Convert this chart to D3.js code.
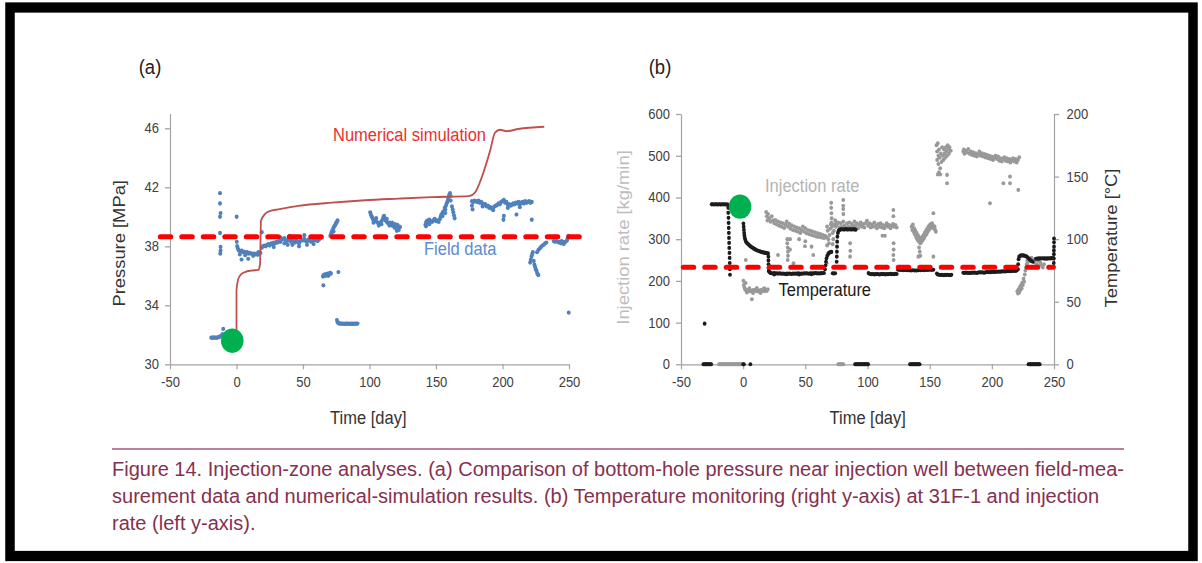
<!DOCTYPE html>
<html>
<head>
<meta charset="utf-8">
<script src="https://cdn.jsdelivr.net/npm/d3@7"></script>
<style>
  html, body { margin: 0; padding: 0; background: #fff; }
  svg { display: block; }
  text { font-family: "Liberation Sans", Arial, Helvetica, sans-serif; }
</style>
</head>
<body>
<script>
"use strict";

// ---- data ----

// (a) numerical simulation, [day, MPa]
const simPressure = [
  [0, 32.3], [0, 35.0], [1.4, 35.8], [3.5, 36.1], [6.4, 36.25], [11, 36.35], [16.4, 36.4],
  [17.7, 36.8], [18.4, 39.73], [21.4, 40.18], [25, 40.38], [31.4, 40.5], [46.5, 40.74],
  [71.6, 40.96], [96.6, 41.12], [121.7, 41.23], [146.8, 41.33], [174.8, 41.4], [179.3, 41.64],
  [184.3, 42.65], [190.6, 44.45], [194.4, 45.7], [198.1, 45.9], [203.2, 45.8], [211.9, 45.95],
  [231.4, 46.1]
];

// (a) field data, [day, MPa]
const fieldPressure = [
  [-19, 31.8], [-18, 31.8], [-17, 31.82], [-16, 31.8], [-15, 31.8], [-14, 31.82], [-13, 31.85],
  [-12, 31.9], [-11, 31.95], [-10.5, 32.05], [-10, 32.4],
  [-12.4, 41.6], [-12.4, 40.9], [-12, 40.25], [-12.4, 40.0], [-12.4, 38.9], [-12, 37.95],
  [-12, 37.7], [-12.2, 37.5], [0.1, 40.0],
  [0.2, 38.3], [0.5, 38.0], [1, 37.85], [1.5, 37.75], [2, 37.7], [3, 37.65], [4, 37.7], [5, 37.6],
  [6, 37.62], [7, 37.55], [8, 37.6], [9, 37.5], [10, 37.55], [11, 37.5], [12, 37.48], [13, 37.5],
  [14, 37.45], [15, 37.5], [16, 37.42], [17, 37.5], [18, 37.55], [3.8, 37.1], [8.8, 37.15],
  [2.5, 37.45], [6.5, 37.4], [12.5, 37.35], [16.5, 37.6],
  [19, 38.95], [19, 37.9], [20, 38.0], [21, 38.05], [22, 38.0], [23, 38.1], [24, 38.15], [25, 38.05],
  [26, 38.2], [27, 38.15], [28, 38.25], [29, 38.2], [30, 38.3], [31, 38.25], [32, 38.35], [33, 38.3],
  [34, 38.45], [35, 38.5], [36, 38.55], [37, 38.4], [38, 38.35], [39, 38.5], [40, 38.4], [41, 38.3],
  [42, 38.45], [43, 38.35], [44, 38.25], [45, 38.4], [46, 38.3], [47, 38.2], [48, 38.35], [49, 38.45],
  [50, 38.4], [51, 38.5], [52, 38.35], [53, 38.3], [54, 38.45], [55, 38.4], [56, 38.3], [57, 38.35],
  [58, 38.45], [59, 38.4], [60, 38.5], [61, 38.35], [62, 38.45], [63, 38.55], [64, 38.6],
  [28, 37.95], [36, 38.2], [42, 38.1], [47, 38.0], [53, 38.1], [58, 38.15], [33, 38.6], [40, 38.7],
  [51, 38.75], [38.5, 38.1],
  [70.5, 38.7], [71, 38.8], [71.5, 38.95], [72, 39.05], [72.5, 39.15], [73, 39.25], [73.5, 39.35],
  [74, 39.4], [74.5, 39.5], [75, 39.6], [75.5, 39.65], [76, 39.75], [73, 39.0],
  [65, 35.95], [65.5, 36.05], [66, 36.0], [66.5, 36.1], [67, 36.0], [67.5, 36.1], [68, 36.05],
  [68.5, 36.15], [69, 36.0], [69.5, 36.15], [70, 36.1], [70.5, 36.2], [71, 36.15], [65.3, 35.35],
  [76.6, 36.25],
  [75.5, 33.0], [76, 32.85], [76.5, 32.8], [77, 32.78], [78, 32.75], [79, 32.76], [80, 32.75],
  [81, 32.74], [82, 32.75], [83, 32.75], [84, 32.76], [85, 32.74], [86, 32.75], [87, 32.75],
  [88, 32.74], [89, 32.75], [90, 32.75], [91, 32.76],
  [100.5, 40.3], [101, 40.15], [101.5, 40.05], [102, 39.95], [102.5, 39.85], [103, 39.8],
  [104, 39.75], [105, 39.7], [106, 39.6], [107, 39.55], [108, 39.6], [109, 39.7], [110, 39.85],
  [110.5, 40.0], [111, 40.05], [111.5, 39.9], [112, 39.75], [113, 39.65], [114, 39.55], [115, 39.6],
  [116, 39.5], [117, 39.4], [118, 39.35], [119, 39.25], [120, 39.3], [121, 39.2], [122, 39.35],
  [123, 39.3], [103, 39.6], [105, 39.9], [107, 39.4], [109, 39.5], [113, 39.85], [115, 39.4],
  [117, 39.6], [119, 39.5], [121, 39.45], [120.5, 39.05], [122, 39.1],
  [142, 39.45], [142.5, 39.6], [143, 39.7], [143.5, 39.55], [144, 39.75], [145, 39.8], [146, 39.7],
  [147, 39.65], [148, 39.75], [149, 39.85], [150, 39.7], [151, 39.75], [152, 39.65], [153, 39.85],
  [153.5, 40.0], [154, 40.15], [155, 40.3], [156, 40.4], [156.5, 40.6], [157, 40.5], [157.5, 40.75],
  [158, 40.9], [158.5, 41.0], [159, 41.2], [159.5, 41.35], [160, 41.5], [160.5, 41.6], [161, 41.4],
  [162, 40.7], [162.5, 40.5], [163, 40.3], [163.5, 40.1], [164, 39.9], [161, 41.1], [142.5, 39.35],
  [145, 39.5], [155, 40.05], [157, 40.25],
  [177, 41.05], [177, 40.75], [177.5, 40.5], [178, 41.0], [179, 41.1], [180, 41.05], [181, 41.0],
  [182, 41.1], [183, 40.95], [184, 41.0], [185, 40.9], [186, 40.8], [187, 40.85], [188, 40.7],
  [189, 40.75], [190, 40.6], [191, 40.65], [192, 40.55], [193, 40.6], [194, 40.7], [195, 40.75],
  [196, 40.8], [197, 40.9], [198, 40.85], [199, 41.0], [200, 41.05], [201, 41.15], [202, 40.95],
  [203, 41.0], [204, 40.8], [205, 40.85], [206, 40.75], [207, 40.8], [208, 40.9], [209, 40.85],
  [210, 40.95], [211, 40.9], [212, 41.0], [213, 40.85], [214, 40.95], [215, 41.0], [216, 40.9],
  [217, 41.05], [218, 40.95], [219, 41.0], [220, 41.05], [221, 40.95], [222, 41.0], [200.7, 39.8],
  [201, 40.05], [210.5, 40.15], [222, 39.8], [185, 40.7], [193, 40.45], [204, 40.6], [213, 40.65],
  [220.8, 36.9], [221.3, 37.1], [221.8, 37.3], [222.3, 37.45], [222.8, 37.6], [223.5, 37.0],
  [224, 36.75], [224.5, 36.6], [225, 36.45], [225.5, 36.35], [226, 36.2], [226.5, 36.1], [227, 36.05],
  [226, 37.6], [227, 37.75], [228, 37.85], [229, 37.95], [230, 38.05], [231, 38.1], [232, 38.2],
  [233, 38.25],
  [238.5, 38.35], [239.5, 38.3], [240.5, 38.35], [241.5, 38.3], [242.5, 38.25], [243.5, 38.3],
  [244.5, 38.35], [245.5, 38.3], [246.5, 38.25], [247.5, 38.3], [248.5, 38.4], [249, 38.55],
  [249.5, 38.7], [244, 38.2], [246, 38.15], [249.8, 33.5]
];

// (a) annotations
const refPressure = 38.65;          // red dashed line
const refPressureSpan = [-57.5, 259.8];
const startA = [-3.2, 31.6];        // green marker

// (b) temperature, [day, degC]
const temperature = [
  [-32, 0], [-31.3, 0], [-30.6, 0], [-29.9, 0], [-29.2, 0], [-28.5, 0], [-27.8, 0], [-27.1, 0],
  [-26.4, 0], [-25.7, 0], [0, 0], [0.6, 0], [5.8, 0],
  [90, 0], [90.7, 0], [91.4, 0], [92.1, 0], [92.8, 0], [93.5, 0], [94.2, 0], [94.9, 0], [95.6, 0],
  [96.3, 0], [97, 0], [97.7, 0], [98.4, 0], [99.1, 0], [99.8, 0], [100.5, 0],
  [134.2, 0], [134.9, 0], [135.6, 0], [136.3, 0], [137, 0], [137.7, 0], [138.4, 0], [139.1, 0],
  [139.8, 0], [140.5, 0], [141.2, 0], [141.9, 0],
  [229.5, 0], [230.2, 0], [230.9, 0], [231.6, 0], [232.3, 0], [233, 0], [233.7, 0], [234.4, 0],
  [235.1, 0], [235.8, 0], [236.5, 0], [237.2, 0], [237.9, 0], [238.5, 0],
  [-31, 32.5],
  [-25.3, 127.8], [-24.5, 127.9], [-23.5, 127.7], [-22.5, 127.9], [-21.5, 127.8], [-20.5, 127.7],
  [-19.5, 127.9], [-18.5, 127.8], [-17.5, 127.7], [-16.5, 127.9], [-15.5, 127.8], [-14.5, 127.7],
  [-13.5, 127.8], [-12.5, 127.6],
  [-12, 125], [-12, 121], [-11.8, 117], [-11.7, 113], [-11.6, 109], [-11.5, 105], [-11.4, 101],
  [-11.3, 97], [-11.2, 93], [-11, 89], [-10.9, 85], [-10.8, 81], [-10.7, 76], [-10.6, 71.5],
  [0.2, 112.5], [0.4, 110], [0.6, 107.5], [0.8, 105], [1.0, 103], [1.3, 101], [1.7, 99.5], [2.2, 98],
  [3, 97], [4, 96], [5, 95], [6, 94.2], [7, 93.5], [8, 92.8], [9, 92.2], [10, 91.6], [11, 91.1],
  [12, 90.7], [13, 90.3], [14, 90], [15, 89.7], [16, 89.4], [17, 89.2], [18, 89], [19, 88.8],
  [20, 88.6], [20.3, 86], [20.3, 83], [20.4, 80], [20.4, 77], [20.5, 74.5],
  [21, 74.2], [21.5, 73.4], [22, 73], [23, 72.8], [24, 72.6], [25, 72.9], [26, 72.5], [27, 72.7],
  [28, 72.4], [29, 72.8], [30, 72.5], [31, 72.3], [32, 72.6], [33, 72.4], [34, 72.2], [35, 72.5],
  [36, 72.3], [37, 72.6], [38, 72.4], [39, 72.2], [40, 72.5], [41, 72.3], [42, 72.6], [43, 72.4],
  [44, 72.7], [45, 72.5], [46, 72.3], [47, 72.6], [48, 72.4], [49, 72.7], [50, 72.5], [51, 72.8],
  [52, 72.6], [53, 72.4], [54, 72.7], [55, 72.5], [56, 72.8], [57, 72.6], [58, 72.9], [59, 72.7],
  [60, 72.5], [61, 72.8], [62, 72.6], [63, 72.9], [64, 72.7], [65, 73], [25, 71.8], [35, 71.9],
  [45, 71.8], [55, 72.0], [72, 72.8], [73, 72.6], [74, 72.7],
  [65.8, 76], [66.2, 79], [66.6, 82], [67, 84.5], [67.6, 86.5], [68.3, 88], [69, 89], [70, 89.6],
  [71, 89.8],
  [75.2, 82], [75.3, 86], [75.4, 90], [75.5, 94], [75.6, 98], [75.8, 102], [76.2, 105], [76.8, 106.8],
  [77.5, 107.4], [78.5, 107.8], [79.5, 107.9], [80.5, 107.7], [81.5, 107.8], [82.5, 108],
  [83.5, 107.8], [84.5, 107.7], [85.5, 107.9], [86.5, 107.8], [87.5, 107.7], [88.5, 107.9],
  [89.5, 107.8], [90.5, 107.6],
  [100.8, 73], [101.5, 72.4], [102.5, 72.1], [103.5, 71.9], [104.5, 72.2], [105.5, 71.8],
  [106.5, 72.1], [107.5, 71.9], [108.5, 72.2], [109.5, 71.8], [110.5, 72], [111.5, 72.3],
  [112.5, 71.9], [113.5, 72.1], [114.5, 71.8], [115.5, 72.2], [116.5, 71.9], [117.5, 72.1],
  [118.5, 72.3], [119.5, 71.9], [120.5, 72.2], [121.5, 72], [122.5, 72.3], [123.5, 72.1],
  [124.5, 75.5], [126, 75.3], [127.5, 75.4], [129, 75.2], [130.5, 75.3], [132, 75.1], [133.5, 75.2],
  [135, 75], [136.5, 75.1], [138, 74.9], [139.5, 75], [141, 75.2], [142.5, 75.1], [144, 75.3],
  [145.5, 75.2], [147, 75.4], [148.5, 75.3], [150, 75.5], [151.5, 75.4], [153, 75.6],
  [155.8, 72.5], [156.5, 71.8], [157.5, 71.5], [158.5, 71.3], [159.5, 71.6], [160.5, 71.4],
  [161.5, 71.2], [162.5, 71.5], [163.5, 71.3], [164.5, 71.6], [165.5, 71.4], [166.5, 71.2],
  [167.5, 71.5],
  [177, 73.2], [178, 73], [179, 73.3], [180, 73.1], [181, 72.9], [182, 73.2], [183, 73], [184, 73.3],
  [185, 73.1], [186, 73.4], [187, 73.2], [188, 73], [189, 73.3], [190, 73.5], [191, 73.3], [192, 73.6],
  [193, 73.4], [194, 73.2], [195, 73.5], [196, 73.7], [197, 73.5], [198, 73.8], [199, 73.6],
  [200, 73.9], [201, 73.7], [202, 74], [203, 73.8], [204, 74.1], [205, 73.9], [206, 74.2], [207, 74],
  [208, 74.3], [209, 74.1], [210, 74.4], [211, 74.2], [212, 74.5], [213, 74.3], [214, 74.6],
  [215, 74.4], [216, 74.7], [217, 74.5], [218, 74.8], [219, 74.6], [220, 74.9],
  [221, 76], [221.2, 80], [221.5, 84], [222, 86], [223, 86.8], [224, 87], [225, 87], [226, 86.8],
  [227, 86.5], [228, 86], [229, 85.2], [230, 84.2], [231, 83.2], [232, 82.5], [233, 82],
  [235.5, 84.3], [236.5, 84.5], [237.5, 84.4], [238.5, 84.6], [239.5, 84.5], [240.5, 84.7],
  [241.5, 84.5], [242.5, 84.6], [243.5, 84.4], [244.5, 84.6], [245.5, 84.5], [246.5, 84.7],
  [247.5, 84.6], [248.5, 84.8], [249.5, 84.7],
  [249.7, 78], [249.8, 81], [249.8, 84.5], [249.9, 88], [249.9, 91], [250, 94], [250, 97.5], [250, 100.5]
];

// (b) injection rate, [day, kg/min]
const injectionRate = [
  [-19.4, 0], [-18.7, 0], [-18, 0], [-17.3, 0], [-16.6, 0], [-15.9, 0], [-15.2, 0], [-14.5, 0],
  [-13.8, 0], [-13.1, 0], [-12.4, 0], [-11.7, 0], [-11, 0], [-10.3, 0], [-9.6, 0], [-8.9, 0],
  [-8.2, 0], [-7.5, 0], [-6.8, 0], [-6.1, 0], [-5.4, 0], [-4.7, 0], [-4, 0], [-3.3, 0], [-2.6, 0],
  [-1.9, 0], [-1.2, 0], [-0.5, 0],
  [76.5, 0], [77.3, 0], [78.1, 0], [78.9, 0], [79.7, 0], [80.5, 0],
  [0.2, 200], [0.5, 190], [1, 184], [1.5, 180], [2, 178], [3, 176], [4, 178], [5, 175], [6, 177],
  [7, 174], [8, 178], [9, 176], [10, 179], [11, 175], [12, 177], [13, 174], [14, 178], [15, 176],
  [16, 180], [17, 175], [18, 178], [19, 176], [19.8, 180], [3, 172], [5, 182], [8, 171], [11, 183],
  [14, 171], [17, 182], [7, 156], [2, 195], [2.1, 250],
  [18.5, 365], [19, 355], [19.5, 345], [20, 360], [21, 350], [22, 342], [23, 355], [24, 345],
  [25, 338], [26, 346], [27, 335], [28, 342], [29, 332], [30, 340], [31, 330], [32, 338], [33, 327],
  [34, 335], [35, 342], [36, 330], [37, 337], [38, 325], [39, 333], [40, 322], [41, 330], [42, 320],
  [43, 328], [44, 318], [45, 326], [46, 315], [47, 322], [48, 330], [49, 318], [50, 326], [51, 314],
  [52, 322], [53, 312], [54, 320], [55, 310], [56, 318], [57, 308], [58, 316], [59, 306], [60, 314],
  [61, 305], [62, 312], [63, 304], [64, 310], [65, 302], [66, 308], [67, 305],
  [35.5, 300], [35.5, 290], [35.8, 280], [36, 270], [36, 260], [35.8, 250], [37.7, 300], [37.7, 275],
  [28, 262], [40.5, 242], [55, 282], [45, 300], [50, 295], [49.7, 283], [56.4, 262], [67.2, 242],
  [67.5, 330], [68, 320], [68.5, 300], [69, 290], [69.5, 310], [70, 325], [70.5, 335], [71, 340],
  [71.5, 330], [72, 315], [72.5, 300], [73, 320], [73.5, 335], [74, 345], [74.5, 330], [75, 340],
  [70.8, 387], [70.8, 375], [71, 362], [71.2, 350], [67.5, 285], [72, 288],
  [80.5, 394], [80.5, 380], [80.5, 372], [80.6, 360],
  [75.5, 335], [76.5, 340], [77.5, 328], [78.5, 338], [79.5, 330], [80.5, 342], [81.5, 332],
  [82.5, 326], [83.5, 338], [84.5, 330], [85.5, 340], [86.5, 328], [87.5, 336], [88.5, 330],
  [89.5, 342], [90.5, 332], [91.5, 338], [92.5, 326], [93.5, 334], [94.5, 340], [95.5, 330],
  [96.5, 336], [97.5, 328], [98.5, 338], [99.5, 344], [100.5, 332], [101.5, 338], [102.5, 328],
  [103.5, 335], [104.5, 330], [105.5, 340], [106.5, 332], [107.5, 326], [108.5, 336], [109.5, 330],
  [110.5, 338], [111.5, 328], [112.5, 334], [113.5, 326], [114.5, 332], [115.5, 338], [116.5, 330],
  [117.5, 334], [118.5, 326], [119.5, 332], [120.5, 336], [121.5, 330], [122.5, 334], [123.5, 328],
  [86, 290], [86.2, 272], [86, 258], [112, 308], [114, 308], [120.8, 262], [121, 250],
  [120.8, 370], [120.8, 355], [121, 290], [121, 275],
  [135.5, 330], [136, 322], [136.5, 335], [137, 318], [137.5, 326], [138, 312], [138.5, 320],
  [139, 305], [139.5, 315], [140, 300], [140.5, 310], [141, 295], [141.5, 305], [142, 298],
  [142.5, 290], [143, 300], [143.5, 294], [144, 305], [144.5, 298], [145, 310], [145.5, 302],
  [146, 315], [146.5, 308], [147, 320], [147.5, 312], [148, 325], [148.5, 318], [149, 330],
  [149.5, 322], [150, 334], [150.5, 326], [151, 336], [151.5, 330], [152, 338], [152.5, 328],
  [153, 332], [153.5, 325], [154, 330], [154.5, 322], [155, 318],
  [141.5, 280], [142, 270], [142.5, 260], [140.9, 258], [153, 362], [153, 258],
  [155.5, 525], [156, 510], [156, 490], [156.5, 530], [157, 500], [157, 480], [157.5, 515],
  [158, 495], [158.5, 470], [159, 505], [159.5, 485], [160, 520], [160.5, 500], [161, 490],
  [161.5, 515], [162, 505], [162.5, 495], [163, 520], [163.5, 510], [164, 500], [164.5, 525],
  [165, 515], [165.5, 505], [166, 520], [167, 512], [156.5, 455], [157.5, 460], [158.5, 455],
  [164, 454], [164, 434],
  [177, 510], [177.5, 515], [178, 505], [179, 512], [180, 508], [181, 516], [182, 505], [183, 510],
  [184, 502], [185, 508], [186, 500], [187, 506], [188, 498], [189, 504], [190, 510], [191, 500],
  [192, 506], [193, 498], [194, 504], [195, 496], [196, 502], [197, 494], [198, 500], [199, 492],
  [200, 498], [201, 490], [202, 496], [203, 500], [204, 492], [205, 498], [206, 488], [207, 494],
  [208, 486], [209, 492], [210, 496], [211, 488], [212, 494], [213, 486], [214, 492], [215, 484],
  [216, 490], [217, 494], [218, 486], [219, 492], [220, 484], [221, 490], [222, 496],
  [209.3, 434], [214.6, 450], [214.6, 434], [198.5, 386], [221.3, 418],
  [220.5, 175], [221, 170], [221.5, 180], [222, 172], [222.5, 185], [223, 178], [223.5, 190],
  [224, 182], [224.5, 196], [225, 190], [225.5, 205], [226, 198], [226.5, 215], [227, 225],
  [227.5, 232], [228, 240], [228.5, 248], [229, 245], [230, 252], [231, 248], [232, 255], [233, 250],
  [234, 245], [235, 252], [236, 240], [237, 248], [238, 236], [239, 244], [240, 238], [241, 232],
  [242, 240]
];

// (b) annotations
const refTemperature = 77.5;
const refTemperatureSpan = [-48.4, 249.6];
const startB = [-2.5, 378];         // green marker on the rate axis

const xTicks = [-50, 0, 50, 100, 150, 200, 250];
const pressureTicks = [30, 34, 38, 42, 46];
const rateTicks = [0, 100, 200, 300, 400, 500, 600];
const tempTicks = [0, 50, 100, 150, 200];

const captionLines = [
  "Figure 14. Injection-zone analyses. (a) Comparison of bottom-hole pressure near injection well between field-mea-",
  "surement data and numerical-simulation results. (b) Temperature monitoring (right y-axis) at 31F-1 and injection",
  "rate (left y-axis)."
];

// ---- drawing ----

// the picture is stretched a bit vertically, so draw in a squashed box
const K = 1.08;
const py = v => v / K;
const W = 1202, H = 563;

const svg = d3.select("body").append("svg")
  .attr("width", W)
  .attr("height", H)
  .attr("viewBox", `0 0 ${W} ${py(H)}`)
  .attr("preserveAspectRatio", "none");

svg.append("rect").attr("width", W).attr("height", py(H)).attr("fill", "#fff");
svg.append("rect")
  .attr("x", 10).attr("y", py(7.5))
  .attr("width", 1183).attr("height", py(548.5))
  .attr("fill", "none").attr("stroke", "#000").attr("stroke-width", 9.5);

const axisGrey = "#a3a3a3";
const tickText = "#404040";

const styleAxis = (g) => {
  g.select(".domain").attr("stroke", axisGrey).attr("stroke-width", 1.2);
  g.selectAll(".tick line").attr("stroke", axisGrey).attr("stroke-width", 1.2);
  g.selectAll(".tick text")
    .attr("fill", tickText)
    .attr("font-size", 13)
    .attr("font-family", "'Liberation Sans', Arial, sans-serif");
};

// ---------- panel (a) ----------
const xA = d3.scaleLinear().domain([-50, 250]).range([170, 569]);
const yA = d3.scaleLinear().domain([30, 47]).range([py(364.3), py(113.5)]);

svg.append("g")
  .attr("transform", `translate(170,0)`)
  .call(d3.axisLeft(yA).tickValues(pressureTicks).tickSize(5).tickPadding(6).tickSizeOuter(0))
  .call(styleAxis);

svg.append("g")
  .attr("transform", `translate(0,${py(364.3)})`)
  .call(d3.axisBottom(xA).tickValues(xTicks).tickFormat(d => String(d))
    .tickSize(py(5)).tickPadding(7).tickSizeOuter(0))
  .call(styleAxis);

svg.append("g")
  .selectAll("circle")
  .data(fieldPressure)
  .enter().append("circle")
    .attr("cx", d => xA(d[0]))
    .attr("cy", d => yA(d[1]))
    .attr("r", 2)
    .attr("fill", "#4f81bd");

svg.append("path")
  .datum(simPressure)
  .attr("d", d3.line().x(d => xA(d[0])).y(d => yA(d[1])).curve(d3.curveMonotoneX))
  .attr("fill", "none")
  .attr("stroke", "#c0504d")
  .attr("stroke-width", 1.8);

svg.append("line")
  .attr("x1", xA(refPressureSpan[0])).attr("x2", xA(refPressureSpan[1]))
  .attr("y1", yA(refPressure)).attr("y2", yA(refPressure))
  .attr("stroke", "#ff0000")
  .attr("stroke-width", py(5))
  .attr("stroke-dasharray", "11,10.5")
  .attr("stroke-linecap", "round");

svg.append("ellipse")
  .attr("cx", xA(startA[0])).attr("cy", yA(startA[1]))
  .attr("rx", 11.3).attr("ry", 11.3)
  .attr("fill", "#00b050");

svg.append("text")
  .attr("x", 333).attr("y", py(141))
  .attr("font-size", 16.5).attr("fill", "#e8302f")
  .text("Numerical simulation");

svg.append("text")
  .attr("x", 424).attr("y", py(255.5))
  .attr("font-size", 16.5).attr("fill", "#5a8bd0")
  .text("Field data");

svg.append("text")
  .attr("x", 150).attr("y", py(74))
  .attr("text-anchor", "middle")
  .attr("font-size", 18.5).attr("fill", "#222")
  .text("(a)");

svg.append("text")
  .attr("x", 368.3).attr("y", py(424.5))
  .attr("text-anchor", "middle")
  .attr("font-size", 16.5).attr("fill", "#333")
  .text("Time [day]");

svg.append("text")
  .attr("transform", `translate(125.2,${py(243.3)}) rotate(-90)`)
  .attr("text-anchor", "middle")
  .attr("font-size", 17).attr("fill", "#333")
  .text("Pressure [MPa]");

// ---------- panel (b) ----------
const xB = d3.scaleLinear().domain([-50, 250]).range([681, 1054]);
const yB = d3.scaleLinear().domain([0, 600]).range([py(364.3), py(114)]);
const tB = d3.scaleLinear().domain([0, 200]).range([py(364.3), py(114)]);

svg.append("g")
  .attr("transform", `translate(681,0)`)
  .call(d3.axisLeft(yB).tickValues(rateTicks).tickSize(5).tickPadding(6).tickSizeOuter(0))
  .call(styleAxis);

svg.append("g")
  .attr("transform", `translate(1054,0)`)
  .call(d3.axisRight(tB).tickValues(tempTicks).tickSize(5).tickPadding(7.5).tickSizeOuter(0))
  .call(styleAxis);

svg.append("g")
  .attr("transform", `translate(0,${py(364.3)})`)
  .call(d3.axisBottom(xB).tickValues(xTicks).tickFormat(d => String(d))
    .tickSize(py(5)).tickPadding(7).tickSizeOuter(0))
  .call(styleAxis);

svg.append("g")
  .selectAll("circle")
  .data(injectionRate)
  .enter().append("circle")
    .attr("cx", d => xB(d[0]))
    .attr("cy", d => yB(d[1]))
    .attr("r", 1.9)
    .attr("fill", "#999999");

svg.append("g")
  .selectAll("circle")
  .data(temperature)
  .enter().append("circle")
    .attr("cx", d => xB(d[0]))
    .attr("cy", d => tB(d[1]))
    .attr("r", 1.9)
    .attr("fill", "#1c1c1c");

svg.append("line")
  .attr("x1", xB(refTemperatureSpan[0])).attr("x2", xB(refTemperatureSpan[1]))
  .attr("y1", tB(refTemperature)).attr("y2", tB(refTemperature))
  .attr("stroke", "#ff0000")
  .attr("stroke-width", py(5))
  .attr("stroke-dasharray", "11,10.5")
  .attr("stroke-linecap", "round");

svg.append("ellipse")
  .attr("cx", xB(startB[0])).attr("cy", yB(startB[1]))
  .attr("rx", 11.3).attr("ry", 11.3)
  .attr("fill", "#00b050");

svg.append("text")
  .attr("x", 765).attr("y", py(192))
  .attr("font-size", 16.5).attr("fill", "#b4b4b4")
  .text("Injection rate");

svg.append("text")
  .attr("x", 778.5).attr("y", py(296))
  .attr("font-size", 16.5).attr("fill", "#1a1a1a")
  .text("Temperature");

svg.append("text")
  .attr("x", 660).attr("y", py(74))
  .attr("text-anchor", "middle")
  .attr("font-size", 18.5).attr("fill", "#222")
  .text("(b)");

svg.append("text")
  .attr("x", 867.7).attr("y", py(424.5))
  .attr("text-anchor", "middle")
  .attr("font-size", 16.5).attr("fill", "#333")
  .text("Time [day]");

svg.append("text")
  .attr("transform", `translate(628.9,${py(237.5)}) rotate(-90)`)
  .attr("text-anchor", "middle")
  .attr("font-size", 17).attr("fill", "#bdbdbd")
  .text("Injection rate [kg/min]");

svg.append("text")
  .attr("transform", `translate(1116.5,${py(238)}) rotate(-90)`)
  .attr("text-anchor", "middle")
  .attr("font-size", 17).attr("fill", "#333")
  .text("Temperature [°C]");

// ---------- caption ----------
svg.append("line")
  .attr("x1", 112).attr("x2", 1124)
  .attr("y1", py(449)).attr("y2", py(449))
  .attr("stroke", "#a4567a").attr("stroke-width", 1.4);

const caption = svg.append("g");
const lines = caption.selectAll("text")
  .data(captionLines)
  .enter().append("text")
    .attr("x", 112)
    .attr("y", (d, i) => py(476 + i * 27))
    .attr("font-size", 18.5)
    .attr("fill", "#86304f")
    .text(d => d);

// squeeze to the condensed face of the original, same factor for every line
const firstWidth = lines.node().getComputedTextLength();
const squeeze = 1012 / firstWidth;
lines.each(function () {
  const w = this.getComputedTextLength();
  d3.select(this)
    .attr("textLength", w * squeeze)
    .attr("lengthAdjust", "spacingAndGlyphs");
});
</script>
</body>
</html>
